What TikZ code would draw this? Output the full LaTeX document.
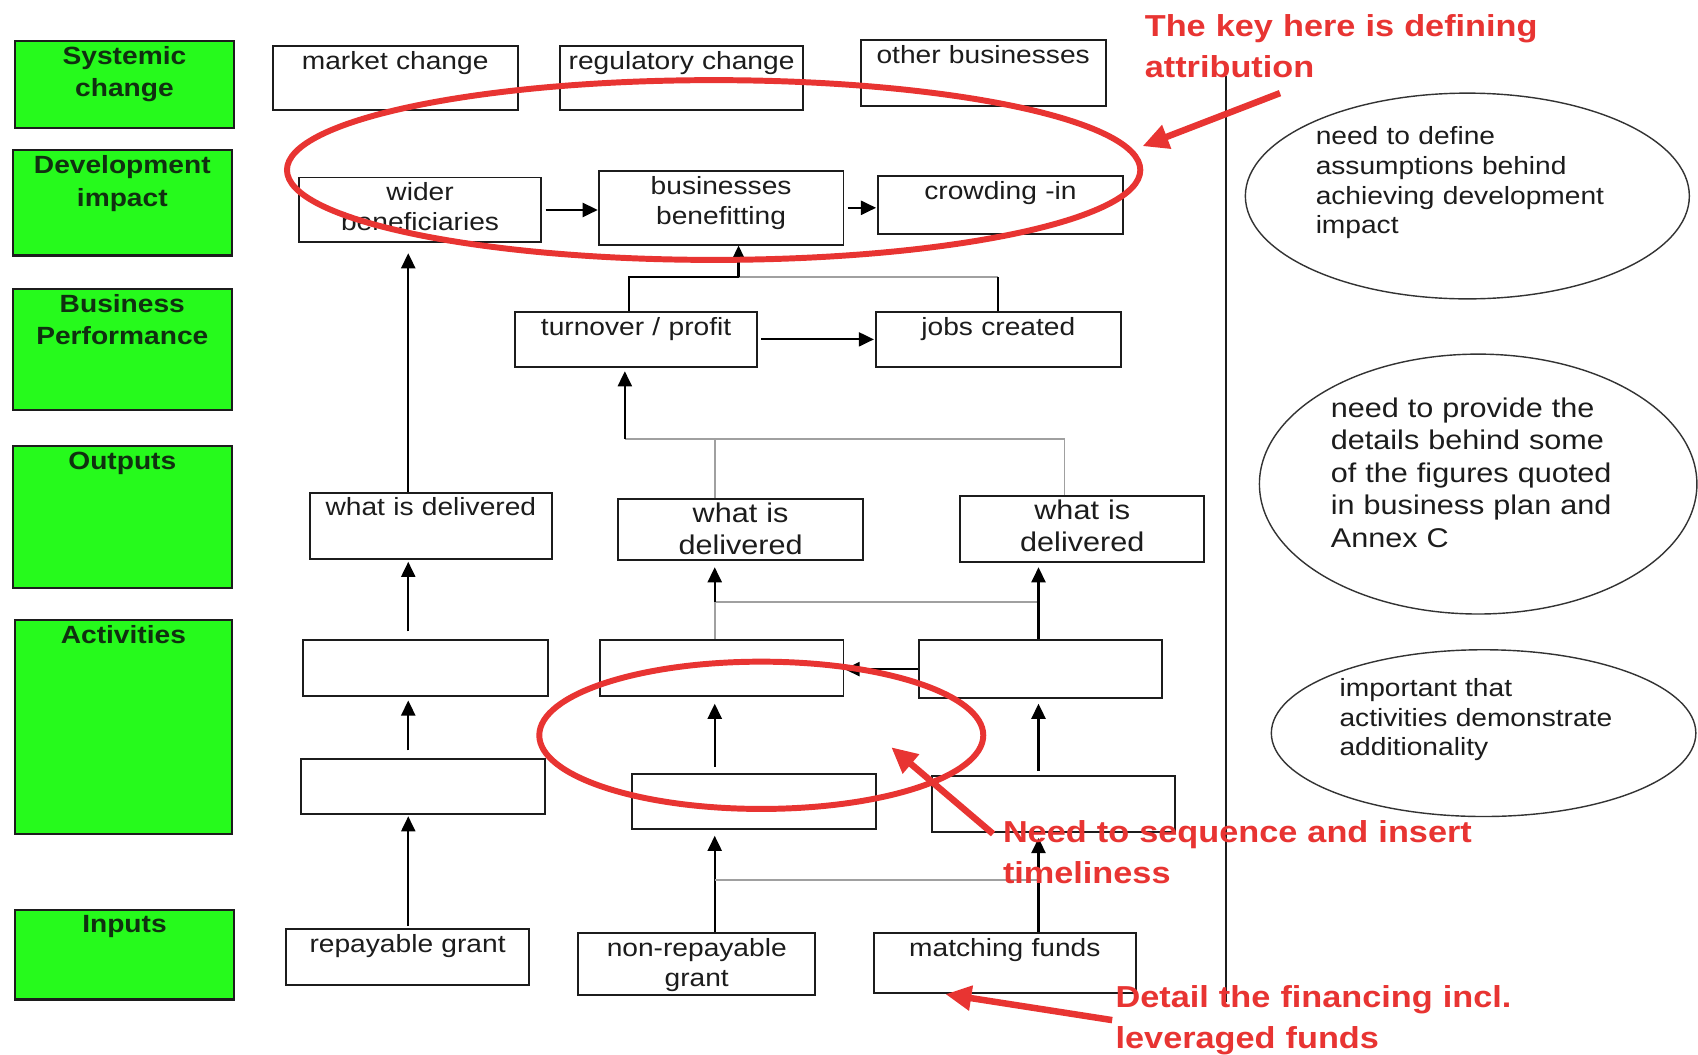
\documentclass[tikz,border=0pt]{standalone}
\usepackage{fontspec}
\setmainfont{Liberation Sans}[FakeStretch=1.13]
\usetikzlibrary{shapes.geometric,arrows.meta}
\definecolor{lvlgreen}{RGB}{38,250,28}
\definecolor{lvltext}{RGB}{16,48,16}
\definecolor{markred}{RGB}{232,52,50}
\definecolor{inkgray}{RGB}{28,28,28}
\definecolor{tiegray}{RGB}{160,160,160}
\newcommand{\boxfont}{\fontsize{23}{27.5}\selectfont}
\newcommand{\bigfont}{\fontsize{25}{30}\selectfont}
\newcommand{\lvlfont}{\fontsize{23}{30}\selectfont\bfseries}
\newcommand{\markfont}{\fontsize{28}{38}\selectfont\bfseries}

\begin{document}
\begin{tikzpicture}[x=1pt,y=-1pt,
  boxsize/.code 2 args={\pgfmathsetmacro\frdepth{#2-26}%
    \pgfkeysalso{anchor=north west, inner xsep=0pt, inner ysep=4.5pt, align=center,
      text width=#1pt, text height=17pt, text depth=\frdepth pt}},
  box/.style={draw=inkgray, line width=1.8pt, fill=white, text=inkgray, font=\boxfont},
  lvl/.style={draw=inkgray, line width=1.9pt, fill=lvlgreen, text=lvltext, font=\lvlfont},
  note/.style={ellipse, draw=black!80, line width=1.3pt, inner sep=0pt, align=left, text=inkgray},
  arr/.style={line width=2pt, -{Triangle[length=14pt,width=13pt]}, shorten >=3pt, shorten <=3pt},
  tie/.style={line width=1.8pt, tiegray},
  redring/.style={markred, line width=5.5pt},
  redarrow/.style={markred, line width=6pt, -{Triangle[length=24pt,width=22pt]}},
  redtext/.style={markred, font=\markfont, anchor=base west, inner sep=0pt, align=left, text width=480pt}]
\useasboundingbox (0,0) rectangle (1568,974);
\fill[white] (0,0) rectangle (1568,974);

% Levels
\node[lvl, boxsize={202}{80}] (sys) at (13,37) {Systemic\\change};
\node[lvl, boxsize={202}{97}] (dev) at (11,138) {Development\\impact};
\node[lvl, boxsize={202}{112}] (bpf) at (11,266) {Business\\Performance};
\node[lvl, boxsize={202}{131}] (out) at (11,411) {Outputs};
\node[lvl, boxsize={200}{197}] (act) at (13,572) {Activities};
\node[lvl, boxsize={202}{83}] (inp) at (13,839) {Inputs};

% Systemic change and development impact
\node[box, boxsize={226}{59}] (mkt) at (251,42) {market change};
\node[box, boxsize={225}{59}] (reg) at (516,42) {regulatory change};
\node[box, boxsize={226}{61}] (oth) at (794,36) {other businesses};
\node[box, boxsize={224}{60}] (wid) at (275,163) {wider\\beneficiaries};
\node[box, boxsize={226}{68}] (bus) at (552,157) {businesses\\benefitting};
\node[box, boxsize={226}{53}] (crd) at (810,162) {crowding -in};

% Business performance
\node[box, boxsize={223}{51}] (trn) at (475,287) {turnover / profit};
\node[box, boxsize={226}{51}] (job) at (808,287) {jobs created};

% Outputs
\node[box, boxsize={224}{61}] (wd1) at (285,454) {what is delivered};
\node[box, font=\bigfont, boxsize={226}{56}] (wd2) at (570,460) {what is\\delivered};
\node[box, font=\bigfont, boxsize={225}{61}] (wd3) at (886,457) {what is\\delivered};

% Activities
\node[box, boxsize={226}{52}] (a1l) at (279,590) {};
\node[box, boxsize={225}{52}] (a1m) at (553,590) {};
\node[box, boxsize={224}{54}] (a1r) at (848,590) {};
\node[box, boxsize={225}{51}] (a2l) at (277,700) {};
\node[box, boxsize={225}{51}] (a2m) at (583,714) {};
\node[box, boxsize={224}{51}] (a2r) at (860,716) {};

% Inputs
\node[box, boxsize={225}{52}] (inR) at (263,857) {repayable grant};
\node[box, boxsize={219}{57}] (inN) at (533,861) {non-repayable\\grant};
\node[box, boxsize={242}{55}] (inM) at (806,861) {matching funds};

% Columns and junctions
\coordinate (cL) at (377,0);
\coordinate (cM) at (660,0);
\coordinate (cR) at (959,0);
\coordinate (cT) at (581,0);
\coordinate (jt) at (682,256);
\coordinate (jo) at (577,405);
\coordinate (jd) at (983,405);
\coordinate (ja) at (660,556);
\coordinate (ji) at (660,813);

% Development row
\draw[arr, shorten >=0pt] (wid.east) -- (wid.east -| bus.west);
\draw[arr, shorten >=1pt] (bus.east) -- (bus.east -| crd.west);
\draw[arr, shorten >=1pt] (trn.east) -- (trn.east -| job.west);
\draw[line width=2pt] (trn.north -| cT) |- (jt);
\draw[tie] (jt) -- (jt -| job.north);
\draw[line width=2pt] (jt -| job.north) -- (job.north);
\draw[arr, shorten <=0pt, shorten >=0pt] (jt) -- (jt |- bus.south);

% Outputs upwards
\draw[tie] (wd2.north -| cM) |- (jo);
\draw[tie] (wd3.north -| jd) -- (jd) -- (jo);
\draw[arr, shorten <=0pt] (jo) -- (jo |- trn.south);
\draw[arr, shorten <=0pt, shorten >=9pt] (wd1.north -| cL) -- (wid.south -| cL);

% Activities upwards
\draw[arr, shorten <=7pt, shorten >=2pt] (a1l.north -| cL) -- (wd1.south -| cL);
\draw[tie] (a1m.north -| cM) -- (ja) -- (ja -| cR);
\draw[arr, shorten <=0pt, shorten >=6pt] (ja) -- (wd2.south -| cM);
\draw[arr, shorten <=0pt, shorten >=4pt] (a1r.north -| cR) -- (wd3.south -| cR);
\draw[arr, shorten <=0pt, shorten >=0pt] (a1r.west) -- (a1r.west -| a1m.east);
\draw[arr, shorten <=7pt] (a2l.north -| cL) -- (a1l.south -| cL);
\draw[arr, shorten <=6pt, shorten >=6pt] (a2m.north -| cM) -- (a1m.south -| cM);
\draw[arr, shorten <=4pt, shorten >=4pt] (a2r.north -| cR) -- (a1r.south -| cR);

% Inputs upwards
\draw[arr, shorten <=2pt, shorten >=1pt] (inR.north -| cL) -- (a2l.south -| cL);
\draw[arr, shorten <=0pt, shorten >=5pt] (inN.north -| cM) -- (a2m.south -| cM);
\draw[arr, shorten <=0pt, shorten >=5pt] (inM.north -| cR) -- (a2r.south -| cR);
\draw[tie] (ji) -- (ji -| cR);

% Divider
\draw[line width=1.6pt, inkgray] (1132,70) -- (1132,925);

% Comments
\node[note, font=\boxfont, text width=280pt, minimum width=410pt, minimum height=190pt,
  text height=17pt, text depth=112pt] (n1) at (1355,181)
  {need to define\\assumptions behind\\achieving development\\impact};
\node[note, font=\bigfont, text width=272pt, minimum width=404pt, minimum height=240pt,
  text height=18pt, text depth=141pt] (n2) at (1365,447)
  {need to provide the\\details behind some\\of the figures quoted\\in business plan and\\Annex C};
\node[note, font=\fontsize{23}{27}\selectfont, text width=266pt, minimum width=392pt, minimum height=154pt,
  text height=17pt, text depth=84pt] (n3) at (1370,677)
  {important that\\activities demonstrate\\additionality};

% Red marks
\draw[redring] (659,157) ellipse [x radius=394pt, y radius=83pt];
\draw[redring] (703,679) ellipse [x radius=205pt, y radius=68pt];
\draw[redarrow] (1182,86) -- (1055,135);
\draw[redarrow] (917,770) -- (823,690);
\draw[redarrow] (1027,942) -- (873,918);
\node[redtext] (t1) at (1057,34) {The key here is defining\\attribution};
\node[redtext] (t2) at (926,778) {Need to sequence and insert\\timeliness};
\node[redtext] (t3) at (1030,930) {Detail the financing incl.\\leveraged funds};
\end{tikzpicture}
\end{document}
